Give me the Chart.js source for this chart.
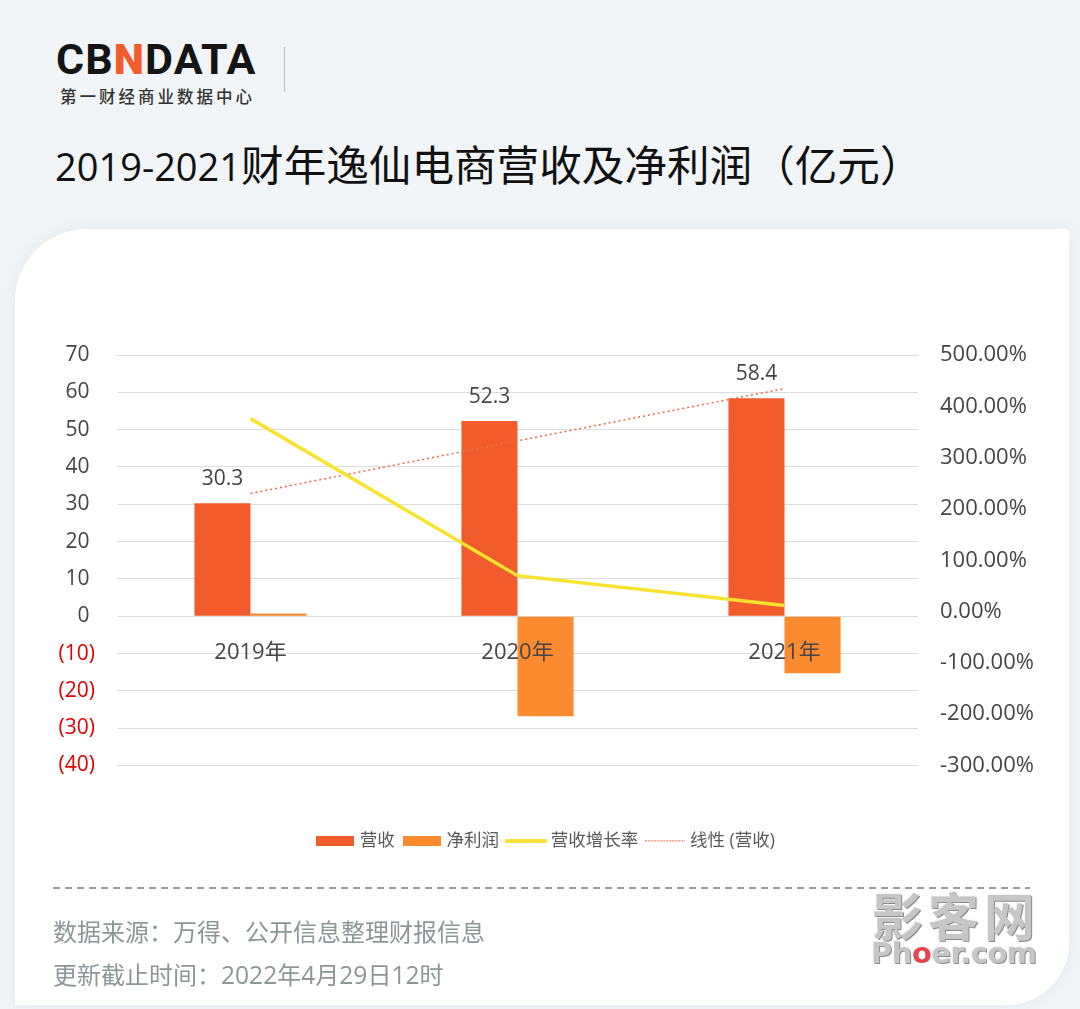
<!DOCTYPE html>
<html lang="zh">
<head>
<meta charset="utf-8">
<title>2019-2021财年逸仙电商营收及净利润（亿元）</title>
<script src="https://cdn.jsdelivr.net/npm/chart.js@4"></script>
<style>
  html, body { margin: 0; padding: 0; }
  body { position: relative; width: 1080px; height: 1009px; overflow: hidden; background: #f2f5f7;
    font-family: "Open Sans", "Noto Sans CJK SC", sans-serif; }
  .abs { position: absolute; white-space: nowrap; }
  #card { position: absolute; left: 15px; top: 229px; width: 1054px; height: 776px; background: #fff;
    border-radius: 72px 3px 62px 0; box-shadow: 0 0 14px rgba(170,180,185,.18); }
  #logo { left: 56px; top: 33px; font: 700 43px/52px Roboto, sans-serif; letter-spacing: 1.1px; color: #141414; }
  #logo b { color: #f25c2c; }
  #logoSub { left: 60px; top: 84px; font: 500 16.5px/24px "Noto Sans CJK SC"; letter-spacing: 3px; color: #333; }
  #logoRule { left: 284px; top: 47px; width: 1px; height: 45px; background: #bdbdbd; }
  #title { left: 55px; top: 133px; line-height: 60px; color: #111; font-size: 42.6px; font-family: "Noto Sans CJK SC"; }
  #title span { font: 38px "Open Sans"; }
  #rule { left: 53px; top: 887px; width: 977px; height: 2px;
    background: repeating-linear-gradient(90deg, #9a9a9a 0 7px, transparent 7px 12px); }
  .foot { left: 53px; font-size: 24px; line-height: 32px; color: #8e9599; font-family: "Noto Sans CJK SC"; }
  .foot span { font-family: "Open Sans"; font-size: 24.6px; }
  #wmCn, #wmEn { color: #c6c6c6; font-weight: 700; text-shadow: 1px 1px 0 #8a8a8a, -1px -1px 0 #f4f4f4; }
  #wmCn { left: 872px; top: 884px; font-size: 51px; line-height: 60px; letter-spacing: 5px; font-family: "Noto Sans CJK SC"; }
  #wmEn { left: 871px; top: 934px; font-size: 29px; line-height: 38px; font-family: "DejaVu Sans"; letter-spacing: -.5px; }
  #wmEn i { font-style: normal; color: #e4464e; text-shadow: none; }
  canvas { position: absolute; left: 0; top: 0; }
</style>
</head>
<body>
<div id="card"></div>
<div class="abs" id="logo">CB<b>N</b>DATA</div>
<div class="abs" id="logoSub">第一财经商业数据中心</div>
<div class="abs" id="logoRule"></div>
<div class="abs" id="title"><span>2019-2021</span>财年逸仙电商营收及净利润（亿元）</div>
<canvas id="chart" width="1080" height="1009"></canvas>
<div class="abs" id="rule"></div>
<div class="abs foot" style="top:915px">数据来源：万得、公开信息整理财报信息</div>
<div class="abs foot" style="top:958px">更新截止时间：<span>2022</span>年<span>4</span>月<span>29</span>日<span>12</span>时</div>
<div class="abs" id="wmCn">影客网</div>
<div class="abs" id="wmEn">Ph<i>o</i>er.com</div>
<script>
const categories = ["2019年", "2020年", "2021年"];
const revenue = [30.3, 52.3, 58.4];
const netProfit = [0.7, -26.8, -15.3];
const growthRate = [376, 70, 11.7];
const revenueTrend = [32.9, 47, 61];
const leftTicks = ["(40)", "(30)", "(20)", "(10)", "0 ", "10 ", "20 ", "30 ", "40 ", "50 ", "60 ", "70 "];
const rightTicks = ["-300.00%", "-200.00%", "-100.00%", "0.00%", "100.00%", "200.00%", "300.00%", "400.00%", "500.00%"];

const fontStack = '"Open Sans", "Noto Sans CJK SC", sans-serif';
const textColor = "#454545";

// legend swatches, the built-in ones can't do a short dotted line
function swatch(w, h, draw) {
  const c = document.createElement("canvas");
  c.width = w;
  c.height = h;
  draw(c.getContext("2d"));
  return c;
}
const swatches = [
  swatch(38, 10, g => { g.fillStyle = "#f25c2c"; g.fillRect(0, 0, 38, 10); }),
  swatch(38, 10, g => { g.fillStyle = "#fc8a2e"; g.fillRect(0, 0, 38, 10); }),
  swatch(42, 4, g => { g.fillStyle = "#f5e23a"; g.fillRect(0, 0, 42, 4); }),
  swatch(40, 2, g => {
    g.fillStyle = "#f0704a";
    for (let x = 0; x < 40; x += 3) g.fillRect(x, 0, 1.5, 1.5);
  })
];

const barValueLabels = {
  id: "barValueLabels",
  afterDatasetsDraw(chart) {
    const ctx = chart.ctx;
    ctx.save();
    ctx.font = "21px " + fontStack;
    ctx.fillStyle = textColor;
    ctx.textAlign = "center";
    ctx.textBaseline = "middle";
    chart.getDatasetMeta(0).data.forEach((bar, i) => {
      ctx.fillText(revenue[i].toFixed(1), bar.x, bar.y - 24);
    });
    ctx.restore();
  }
};

// legend sits well below the plot, not right under it
const moveLegend = {
  id: "moveLegend",
  afterLayout(chart) {
    const legend = chart.legend;
    const h = legend.bottom - legend.top;
    legend.top = 821;
    legend.bottom = legend.top + h;
    legend.left += 7;
    legend.right += 7;
  }
};

new Chart(document.getElementById("chart"), {
  data: {
    labels: categories,
    datasets: [
      { type: "bar", label: "营收", data: revenue, backgroundColor: "#f25c2c", yAxisID: "y", order: 3,
        barPercentage: 1, categoryPercentage: 0.42 },
      { type: "bar", label: "净利润", data: netProfit, backgroundColor: "#fc8a2e", yAxisID: "y", order: 3,
        barPercentage: 1, categoryPercentage: 0.42 },
      { type: "line", label: "营收增长率", data: growthRate, borderColor: "#f7e22f", borderWidth: 3.5,
        pointRadius: 0, tension: 0, yAxisID: "y1", order: 1 },
      { type: "line", label: "线性 (营收)", data: revenueTrend, borderColor: "#ef6a42", borderWidth: 1.5,
        borderDash: [2, 3], pointRadius: 0, tension: 0, yAxisID: "y", order: 2 }
    ]
  },
  options: {
    responsive: false,
    animation: false,
    layout: { padding: { top: 355, bottom: 205, left: 0, right: 0 } },
    plugins: {
      tooltip: { enabled: false },
      legend: {
        position: "bottom",
        labels: {
          usePointStyle: true,
          pointStyleWidth: 32,
          padding: 11,
          color: "#595959",
          font: { family: fontStack, size: 17.5 },
          generateLabels: chart => chart.data.datasets.map((ds, i) => ({
            text: ds.label,
            pointStyle: swatches[i],
            datasetIndex: i,
            fontColor: "#595959",
            lineWidth: 0
          }))
        }
      }
    },
    scales: {
      x: {
        position: { y: 0 },
        grid: { display: false },
        border: { display: false },
        ticks: { z: 1, padding: 15, color: textColor, maxRotation: 0, autoSkip: false,
          font: { family: fontStack, size: 22 } }
      },
      y: {
        position: "left",
        min: -40,
        max: 70,
        afterFit: scale => { scale.width = 117; },
        grid: { color: "#dddddd", lineWidth: 1, drawTicks: false },
        border: { display: false },
        ticks: {
          stepSize: 10,
          autoSkip: false,
          padding: 22,
          color: ctx => (ctx.tick.value < 0 ? "#e00000" : textColor),
          font: { family: fontStack, size: 21 },
          callback: (value, i) => leftTicks[i]
        }
      },
      y1: {
        position: "right",
        min: -300,
        max: 500,
        afterFit: scale => { scale.width = 162; },
        grid: { display: false, drawTicks: false },
        border: { display: false },
        ticks: {
          stepSize: 100,
          autoSkip: false,
          padding: 22,
          color: textColor,
          font: { family: fontStack, size: 22 },
          callback: (value, i) => rightTicks[i]
        }
      }
    }
  },
  plugins: [barValueLabels, moveLegend]
});
</script>
</body>
</html>
